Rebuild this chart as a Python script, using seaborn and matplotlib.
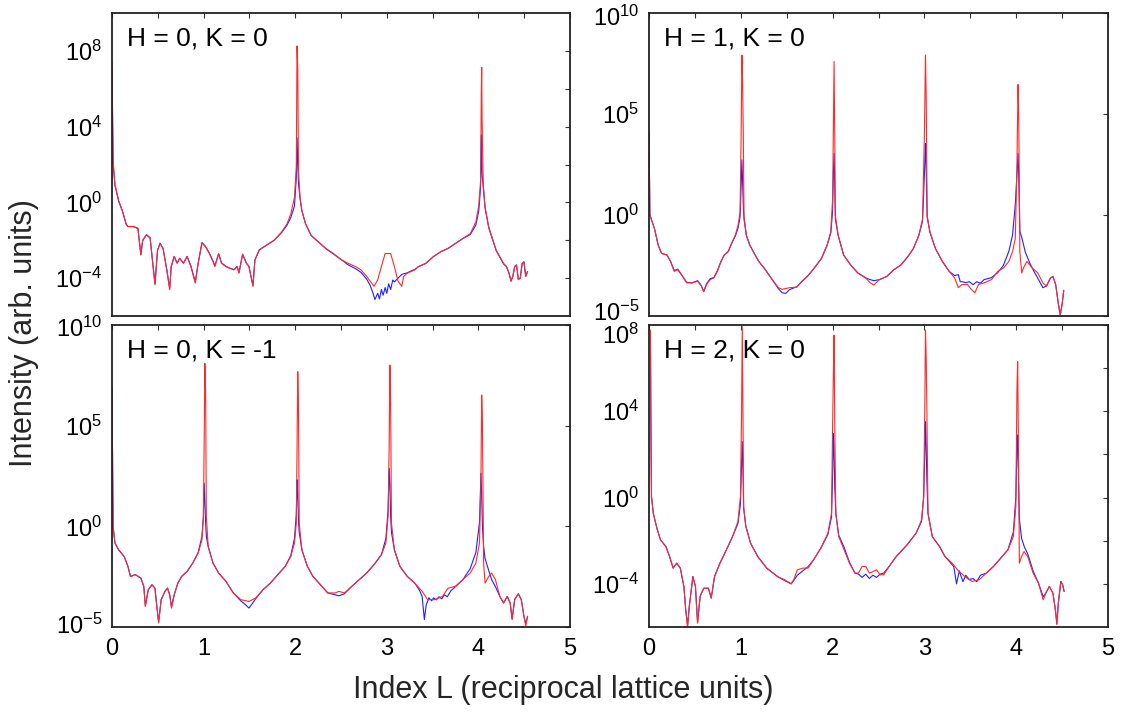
import numpy as np
import pandas as pd
import matplotlib
matplotlib.use("Agg")
import matplotlib.pyplot as plt
from matplotlib.ticker import FixedLocator, FixedFormatter, NullLocator, NullFormatter, MultipleLocator
from matplotlib.transforms import ScaledTranslation
import seaborn as sns

# ---------------- data (L index, log10 intensity) ----------------
panel_titles = ["H = 0, K = 0", "H = 1, K = 0", "H = 0, K = -1", "H = 2, K = 0"]

# H=0, K=0
L_00_red = [0.000, 0.012, 0.032, 0.073, 0.113, 0.154, 0.174, 0.234, 0.283, 0.315, 0.335, 0.376, 0.416, 0.469,
            0.497, 0.525, 0.558, 0.598, 0.630, 0.646, 0.679, 0.711, 0.739, 0.780, 0.820, 0.861, 0.909, 0.941,
            0.982, 1.022, 1.063, 1.103, 1.123, 1.164, 1.196, 1.244, 1.285, 1.333, 1.366, 1.386, 1.426, 1.467,
            1.495, 1.539, 1.560, 1.608, 1.689, 1.770, 1.851, 1.911, 1.952, 1.992, 2.012, 2.020, 2.028, 2.036,
            2.053, 2.073, 2.113, 2.174, 2.255, 2.335, 2.416, 2.497, 2.578, 2.659, 2.719, 2.780, 2.820, 2.861,
            2.901, 2.941, 2.982, 3.042, 3.083, 3.123, 3.164, 3.184, 3.224, 3.265, 3.305, 3.345, 3.426, 3.507,
            3.588, 3.669, 3.749, 3.830, 3.911, 3.972, 4.004, 4.024, 4.032, 4.036, 4.040, 4.053, 4.073, 4.113,
            4.194, 4.275, 4.307, 4.335, 4.356, 4.376, 4.396, 4.416, 4.436, 4.457, 4.477, 4.497, 4.517, 4.537]
I_00_red = [7.39, 2.17, 0.96, 0.09, -0.43, -1.13, -1.27, -1.27, -1.36, -2.78, -2.00, -1.70, -1.86, -4.35,
            -2.52, -2.17, -2.43, -3.57, -4.61, -3.39, -2.87, -3.22, -2.96, -3.22, -2.87, -3.39, -4.26, -3.22,
            -2.14, -2.35, -2.70, -3.13, -3.39, -2.70, -3.22, -3.39, -3.48, -3.57, -3.39, -3.74, -2.73, -3.22,
            -3.39, -4.43, -3.04, -2.52, -2.26, -2.00, -1.57, -1.13, -0.61, 0.26, 1.83, 8.26, 7.04, 1.65,
            0.26, -0.43, -1.13, -1.74, -2.09, -2.43, -2.70, -3.01, -3.22, -3.39, -3.57, -3.91, -4.17, -4.43,
            -4.09, -3.39, -2.70, -2.70, -3.39, -4.17, -4.43, -3.91, -3.74, -3.65, -3.57, -3.39, -3.22, -2.87,
            -2.61, -2.43, -2.17, -1.91, -1.65, -1.04, -0.17, 1.13, 5.83, 7.13, 4.43, 0.96, -0.26, -1.30,
            -2.52, -3.22, -3.39, -3.74, -4.17, -3.91, -3.39, -3.30, -4.09, -4.00, -3.22, -3.13, -3.91, -3.65]
L_00_blue = [0.000, 0.012, 0.032, 0.073, 0.113, 0.154, 0.174, 0.234, 0.283, 0.315, 0.335, 0.376, 0.416, 0.469,
             0.497, 0.525, 0.558, 0.598, 0.630, 0.646, 0.679, 0.711, 0.739, 0.780, 0.820, 0.861, 0.909, 0.941,
             0.982, 1.022, 1.063, 1.103, 1.123, 1.164, 1.196, 1.244, 1.285, 1.333, 1.366, 1.386, 1.426, 1.467,
             1.495, 1.539, 1.560, 1.608, 1.689, 1.770, 1.851, 1.911, 1.952, 1.992, 2.012, 2.020, 2.028, 2.036,
             2.053, 2.073, 2.113, 2.174, 2.255, 2.335, 2.416, 2.497, 2.578, 2.659, 2.719, 2.780, 2.820, 2.850,
             2.870, 2.901, 2.920, 2.941, 2.960, 2.982, 3.000, 3.020, 3.042, 3.065, 3.083, 3.123, 3.164, 3.224,
             3.265, 3.305, 3.345, 3.426, 3.507, 3.588, 3.669, 3.749, 3.830, 3.911, 3.972, 4.004, 4.024, 4.032,
             4.040, 4.053, 4.073, 4.113, 4.194, 4.275, 4.307, 4.335, 4.356, 4.376, 4.396, 4.416, 4.436, 4.457,
             4.477, 4.497, 4.517, 4.537]
I_00_blue = [7.0, 2.1, 0.9, 0.05, -0.45, -1.15, -1.28, -1.28, -1.38, -2.75, -2.02, -1.72, -1.88, -4.3,
             -2.55, -2.15, -2.45, -3.55, -4.55, -3.4, -2.85, -3.2, -2.95, -3.2, -2.85, -3.35, -4.2, -3.2,
             -2.12, -2.33, -2.68, -3.1, -3.35, -2.72, -3.2, -3.38, -3.47, -3.55, -3.38, -3.7, -2.75, -3.2,
             -3.38, -4.4, -3.05, -2.5, -2.25, -2.0, -1.6, -1.2, -0.8, -0.2, 1.3, 3.4, 2.0, 1.0,
             0.2, -0.45, -1.13, -1.75, -2.1, -2.45, -2.72, -3.0, -3.3, -3.5, -3.7, -4.05, -4.4, -4.8,
             -5.13, -4.8, -5.1, -4.6, -4.9, -4.5, -4.8, -4.3, -4.6, -4.1, -4.2, -4.0, -3.8, -3.72,
             -3.62, -3.55, -3.4, -3.22, -2.87, -2.61, -2.43, -2.17, -1.91, -1.7, -1.2, -0.45, 0.8, 3.57,
             1.5, 0.8, -0.3, -1.35, -2.55, -3.25, -3.4, -3.75, -4.15, -3.9, -3.4, -3.3, -4.05, -4.0,
             -3.25, -3.15, -3.9, -3.65]

# H=1, K=0
L_10_red = [0.00, 0.01, 0.06, 0.10, 0.137, 0.196, 0.235, 0.275, 0.314, 0.353, 0.41, 0.47, 0.53, 0.57, 0.596,
            0.627, 0.667, 0.706, 0.745, 0.784, 0.82, 0.863, 0.90, 0.94, 0.97, 0.992, 1.004, 1.012, 1.02, 1.027,
            1.035, 1.06, 1.098, 1.137, 1.196, 1.255, 1.33, 1.41, 1.45, 1.53, 1.61, 1.667, 1.725, 1.80, 1.88,
            1.94, 1.98, 2.0, 2.008, 2.016, 2.024, 2.03, 2.06, 2.12, 2.196, 2.275, 2.353, 2.41, 2.45, 2.51,
            2.59, 2.667, 2.745, 2.82, 2.88, 2.94, 2.98, 3.0, 3.012, 3.02, 3.03, 3.06, 3.12, 3.196, 3.27, 3.33,
            3.37, 3.41, 3.47, 3.51, 3.55, 3.59, 3.65, 3.73, 3.80, 3.86, 3.92, 3.96, 3.99, 4.008, 4.02, 4.027,
            4.04, 4.06, 4.078, 4.117, 4.176, 4.235, 4.29, 4.33, 4.373, 4.40, 4.43, 4.46, 4.48, 4.50, 4.518]
I_10_red = [4.1, 0.0, -0.68, -1.49, -1.9, -1.98, -2.3, -2.79, -2.71, -2.95, -3.36, -3.36, -3.28, -3.52, -3.8,
            -3.44, -3.2, -3.12, -2.79, -2.3, -1.98, -1.82, -1.41, -1.0, -0.52, 0.13, 4.03, 7.92, 6.6, 4.03,
            -0.03, -1.0, -1.49, -1.82, -2.3, -2.63, -3.12, -3.6, -3.68, -3.6, -3.57, -3.28, -3.04, -2.63, -2.14,
            -1.49, -0.84, 0.78, 4.03, 7.6, 3.7, -0.03, -1.0, -1.98, -2.47, -2.87, -3.08, -3.36, -3.47, -3.2,
            -3.04, -2.71, -2.47, -2.06, -1.66, -1.0, -0.19, 4.03, 7.92, 5.65, -0.03, -0.84, -1.66, -2.3, -2.79, -3.12,
            -3.6, -3.44, -3.44, -3.68, -3.85, -3.44, -3.36, -3.2, -2.79, -2.63, -2.3, -1.82, -1.17, 2.4, 6.46, 5.16,
            -1.82, -2.87, -2.63, -2.3, -2.63, -2.87, -3.36, -3.52, -3.12, -3.04, -3.44, -4.42, -4.95, -4.42, -3.73]
L_10_blue = [0.00, 0.01, 0.06, 0.10, 0.137, 0.196, 0.235, 0.275, 0.314, 0.353, 0.41, 0.47, 0.53, 0.57, 0.596,
             0.627, 0.667, 0.706, 0.745, 0.784, 0.82, 0.863, 0.90, 0.94, 0.97, 0.992, 1.004, 1.012, 1.02, 1.027,
             1.035, 1.06, 1.098, 1.137, 1.196, 1.255, 1.33, 1.41, 1.45, 1.49, 1.53, 1.61, 1.667, 1.725, 1.80,
             1.88, 1.94, 1.98, 2.0, 2.008, 2.016, 2.024, 2.03, 2.06, 2.12, 2.196, 2.275, 2.353, 2.41, 2.45,
             2.51, 2.59, 2.667, 2.745, 2.82, 2.88, 2.94, 2.98, 3.0, 3.012, 3.02, 3.03, 3.06, 3.12, 3.196, 3.27,
             3.33, 3.37, 3.39, 3.41, 3.45, 3.49, 3.53, 3.57, 3.61, 3.65, 3.69, 3.73, 3.80, 3.86, 3.92, 3.96,
             3.99, 4.008, 4.02, 4.027, 4.04, 4.06, 4.10, 4.15, 4.20, 4.25, 4.29, 4.33, 4.373, 4.40, 4.43, 4.46,
             4.48, 4.50, 4.518]
I_10_blue = [4.0, 0.0, -0.68, -1.49, -1.9, -1.98, -2.3, -2.75, -2.68, -2.95, -3.33, -3.36, -3.25, -3.5, -3.78,
             -3.4, -3.15, -3.1, -2.75, -2.3, -1.98, -1.8, -1.4, -1.05, -0.65, -0.1, 1.5, 2.73, 1.6, 0.5,
             -0.2, -1.0, -1.49, -1.82, -2.3, -2.63, -3.12, -3.65, -3.85, -3.88, -3.7, -3.55, -3.28, -3.04, -2.63,
             -2.14, -1.5, -0.9, 0.2, 2.0, 3.05, 1.5, -0.2, -1.0, -1.98, -2.47, -2.87, -3.1, -3.2, -3.25,
             -3.2, -3.04, -2.71, -2.47, -2.06, -1.66, -1.0, -0.3, 2.0, 3.54, 2.2, -0.1, -0.84, -1.66, -2.3, -2.79,
             -3.0, -2.95, -3.3, -3.3, -3.35, -3.3, -3.45, -3.3, -3.38, -3.2, -3.15, -3.1, -2.85, -2.5, -1.8, -1.0,
             0.5, 2.0, 3.05, 2.0, -0.8, -1.1, -1.85, -2.4, -2.85, -3.25, -3.6, -3.52, -3.12, -3.04, -3.44, -4.42,
             -4.95, -4.42, -3.73]

# H=0, K=-1
L_01_red = [0.000, 0.012, 0.032, 0.073, 0.133, 0.174, 0.202, 0.255, 0.315, 0.347, 0.364, 0.396, 0.436, 0.469,
            0.489, 0.509, 0.537, 0.578, 0.606, 0.630, 0.650, 0.679, 0.719, 0.760, 0.820, 0.881, 0.941, 0.982,
            0.998, 1.006, 1.014, 1.022, 1.030, 1.05, 1.103, 1.164, 1.244, 1.325, 1.406, 1.495, 1.568, 1.648,
            1.729, 1.810, 1.891, 1.952, 1.992, 2.012, 2.020, 2.028, 2.036, 2.044, 2.073, 2.133, 2.194, 2.275,
            2.356, 2.436, 2.477, 2.537, 2.618, 2.699, 2.780, 2.861, 2.941, 2.990, 3.014, 3.026, 3.034, 3.042,
            3.051, 3.083, 3.143, 3.224, 3.305, 3.386, 3.446, 3.527, 3.608, 3.669, 3.749, 3.830, 3.911, 3.972,
            4.012, 4.028, 4.036, 4.044, 4.057, 4.073, 4.113, 4.145, 4.186, 4.234, 4.275, 4.315, 4.347, 4.368,
            4.396, 4.436, 4.468, 4.497, 4.517, 4.537]
I_01_red = [6.9, 0.0, -0.83, -1.17, -1.5, -1.99, -2.49, -2.4, -2.57, -2.98, -3.97, -3.15, -2.9, -3.07,
            -3.97, -4.8, -3.64, -3.23, -3.07, -3.4, -4.06, -3.4, -2.82, -2.49, -2.24, -1.83, -1.33, -0.67,
            0.49, 4.12, 8.09, 6.6, 0.49, -1.0, -1.83, -2.32, -2.73, -3.31, -3.64, -3.73, -3.56, -3.15,
            -2.82, -2.4, -1.99, -1.5, -0.83, 0.16, 3.79, 7.68, 5.78, 0.16, -1.17, -1.99, -2.49, -2.9,
            -3.31, -3.31, -3.23, -3.31, -2.98, -2.65, -2.32, -1.9, -1.41, -0.83, 0.49, 4.12, 8.01, 6.11,
            0.16, -1.17, -1.99, -2.49, -2.82, -3.23, -3.64, -3.64, -3.48, -3.07, -2.98, -2.65, -2.32, -1.83,
            -0.83, 2.47, 6.52, 5.12, -1.83, -2.82, -2.49, -2.32, -2.65, -3.48, -3.81, -3.48, -3.81, -4.63,
            -3.64, -3.35, -3.64, -4.47, -4.95, -4.47]
L_01_blue = [0.000, 0.012, 0.032, 0.073, 0.133, 0.174, 0.202, 0.255, 0.315, 0.347, 0.364, 0.396, 0.436, 0.469,
             0.489, 0.509, 0.537, 0.578, 0.606, 0.630, 0.650, 0.679, 0.719, 0.760, 0.820, 0.881, 0.941, 0.982,
             0.998, 1.006, 1.014, 1.022, 1.030, 1.05, 1.103, 1.164, 1.244, 1.325, 1.406, 1.46, 1.495, 1.53,
             1.568, 1.648, 1.729, 1.810, 1.891, 1.952, 1.992, 2.012, 2.020, 2.028, 2.036, 2.044, 2.073, 2.133,
             2.194, 2.275, 2.356, 2.436, 2.477, 2.537, 2.618, 2.699, 2.780, 2.861, 2.941, 2.990, 3.014, 3.026,
             3.034, 3.042, 3.051, 3.083, 3.143, 3.224, 3.305, 3.36, 3.386, 3.41, 3.43, 3.46, 3.49, 3.51,
             3.54, 3.57, 3.60, 3.63, 3.66, 3.70, 3.749, 3.830, 3.911, 3.972, 4.012, 4.028, 4.036, 4.044,
             4.057, 4.073, 4.113, 4.145, 4.186, 4.234, 4.275, 4.315, 4.347, 4.368, 4.396, 4.436, 4.468, 4.497,
             4.517, 4.537]
I_01_blue = [6.8, 0.0, -0.83, -1.17, -1.5, -1.99, -2.49, -2.4, -2.57, -2.98, -3.95, -3.15, -2.9, -3.07,
             -3.95, -4.75, -3.64, -3.23, -3.07, -3.4, -4.0, -3.4, -2.82, -2.49, -2.24, -1.83, -1.3, -0.5,
             0.5, 2.14, 1.2, 0.2, -0.5, -1.0, -1.83, -2.32, -2.73, -3.31, -3.7, -3.9, -4.06, -3.85,
             -3.6, -3.15, -2.82, -2.4, -1.99, -1.45, -0.6, 0.6, 2.31, 1.5, 0.3, -0.3, -1.17, -1.99,
             -2.49, -2.9, -3.31, -3.4, -3.45, -3.35, -2.98, -2.65, -2.32, -1.9, -1.41, -0.6, 0.8, 2.88,
             2.0, 0.5, -0.3, -1.17, -1.99, -2.49, -2.82, -3.2, -3.5, -4.63, -3.9, -3.55, -3.7, -3.55,
             -3.65, -3.5, -3.6, -3.4, -3.5, -3.2, -3.0, -2.65, -2.1, -1.3, 0.2, 2.64, 1.5, 0.0,
             -1.0, -1.6, -2.2, -2.65, -3.0, -3.48, -3.81, -3.48, -3.81, -4.6, -3.64, -3.35, -3.64, -4.45,
             -4.85, -4.47]

# H=2, K=0
L_20_red = [0.016, 0.020, 0.027, 0.047, 0.086, 0.125, 0.184, 0.224, 0.263, 0.302, 0.341, 0.380, 0.400, 0.420,
            0.439, 0.478, 0.506, 0.529, 0.557, 0.596, 0.647, 0.678, 0.714, 0.773, 0.851, 0.910, 0.969, 0.996,
            1.008, 1.016, 1.024, 1.031, 1.055, 1.106, 1.184, 1.282, 1.400, 1.478, 1.549, 1.576, 1.616, 1.675,
            1.733, 1.792, 1.871, 1.949, 1.988, 2.000, 2.008, 2.016, 2.024, 2.035, 2.067, 2.125, 2.184, 2.243,
            2.282, 2.322, 2.361, 2.400, 2.440, 2.478, 2.518, 2.557, 2.616, 2.694, 2.812, 2.910, 2.969, 2.992,
            3.004, 3.012, 3.020, 3.027, 3.039, 3.086, 3.165, 3.224, 3.302, 3.361, 3.439, 3.518, 3.596, 3.675,
            3.753, 3.831, 3.910, 3.969, 3.996, 4.008, 4.016, 4.024, 4.035, 4.059, 4.086, 4.125, 4.184, 4.243,
            4.294, 4.322, 4.361, 4.400, 4.427, 4.443, 4.459, 4.486, 4.506, 4.522]
I_20_red = [7.76, 3.9, 0.05, -0.73, -1.42, -1.96, -2.27, -2.73, -3.27, -3.04, -3.27, -4.12, -5.2, -5.97,
            -5.05, -3.66, -4.12, -5.82, -4.58, -4.2, -4.2, -4.66, -3.66, -3.04, -2.35, -1.81, -1.11, 0.05,
            3.75, 7.92, 3.75, -0.42, -1.34, -2.11, -2.73, -3.27, -3.66, -3.81, -4.0, -3.81, -3.35, -3.27,
            -3.27, -2.89, -2.35, -1.65, -0.73, 3.29, 5.6, 7.53, 3.29, -0.73, -1.81, -2.42, -3.04, -3.5,
            -3.5, -3.19, -3.19, -3.5, -3.43, -3.35, -3.58, -3.58, -3.19, -2.73, -2.19, -1.65, -1.03, 0.05,
            4.06, 7.76, 6.37, 4.06, -0.73, -1.81, -2.27, -2.73, -3.04, -3.35, -3.66, -3.89, -3.81, -3.5,
            -3.19, -2.81, -2.42, -1.81, -0.42, 4.98, 6.3, 2.52, -3.04, -2.73, -2.5, -2.73, -3.5, -3.97,
            -4.74, -4.43, -4.12, -4.43, -5.2, -5.89, -4.89, -3.89, -4.04, -4.35]
L_20_blue = [0.016, 0.020, 0.027, 0.047, 0.086, 0.125, 0.184, 0.224, 0.263, 0.302, 0.341, 0.380, 0.400, 0.420,
             0.439, 0.478, 0.506, 0.529, 0.557, 0.596, 0.647, 0.678, 0.714, 0.773, 0.851, 0.910, 0.969, 0.996,
             1.008, 1.016, 1.024, 1.031, 1.055, 1.106, 1.184, 1.282, 1.400, 1.478, 1.549, 1.576, 1.616, 1.675,
             1.733, 1.792, 1.871, 1.949, 1.988, 2.000, 2.008, 2.016, 2.024, 2.035, 2.067, 2.125, 2.184, 2.243,
             2.282, 2.322, 2.361, 2.400, 2.440, 2.478, 2.518, 2.557, 2.616, 2.694, 2.812, 2.910, 2.969, 2.992,
             3.004, 3.012, 3.020, 3.027, 3.039, 3.086, 3.165, 3.224, 3.280, 3.320, 3.350, 3.380, 3.420, 3.450,
             3.490, 3.530, 3.570, 3.610, 3.675, 3.753, 3.831, 3.910, 3.969, 3.996, 4.008, 4.016, 4.024, 4.035,
             4.059, 4.090, 4.125, 4.184, 4.243, 4.294, 4.322, 4.361, 4.400, 4.427, 4.443, 4.459, 4.486, 4.506,
             4.522]
I_20_blue = [7.7, 3.9, 0.05, -0.73, -1.42, -1.96, -2.27, -2.73, -3.27, -3.04, -3.27, -4.12, -5.2, -5.95,
             -5.05, -3.66, -4.12, -5.8, -4.58, -4.2, -4.2, -4.66, -3.66, -3.04, -2.35, -1.81, -1.2, -0.3,
             1.5, 2.6, 1.2, -0.5, -1.34, -2.11, -2.73, -3.27, -3.66, -3.85, -4.0, -3.85, -3.6, -3.4,
             -3.2, -2.89, -2.35, -1.7, -0.9, 1.0, 2.98, 2.0, 0.5, -0.73, -1.75, -2.3, -3.0, -3.5,
             -3.55, -3.7, -3.55, -3.75, -3.6, -3.7, -3.55, -3.5, -3.19, -2.73, -2.19, -1.65, -1.1, 0.0,
             2.0, 3.52, 2.2, 0.8, -0.73, -1.81, -2.27, -2.73, -3.0, -3.2, -4.0, -3.4, -3.9, -3.6,
             -3.8, -3.75, -3.9, -3.6, -3.5, -3.19, -2.81, -2.42, -1.6, 0.0, 2.2, 2.9, 1.0, -1.0,
             -1.9, -2.3, -2.6, -3.4, -3.97, -4.6, -4.43, -4.12, -4.43, -5.2, -5.85, -4.89, -3.89, -4.04,
             -4.35]

# axis settings per panel (log10 limits, labelled decades, extra tick decades)
ylims_log = [(-6, 10), (-5, 10), (-5, 10), (-6, 8)]
label_decades = [[-4, 0, 4, 8], [-5, 0, 5, 10], [-5, 0, 5, 10], [-4, 0, 4, 8]]
minor_decades = [[-2, 2, 6], [], [], [-2, 2, 6]]
x_ticks = [0, 1, 2, 3, 4, 5]
# small vertical nudges (points) of edge tick labels, as placed in the reference
label_nudge = [{}, {-5: 4, 10: -2}, {10: -1, -5: 2}, {8: -6}]

series = [
    (L_00_red, I_00_red, L_00_blue, I_00_blue),
    (L_10_red, I_10_red, L_10_blue, I_10_blue),
    (L_01_red, I_01_red, L_01_blue, I_01_blue),
    (L_20_red, I_20_red, L_20_blue, I_20_blue),
]

# ---------------- style ----------------
sns.set_theme(style="white")
plt.rcParams["font.family"] = ["Liberation Sans", "DejaVu Sans"]
plt.rcParams["mathtext.fontset"] = "custom"
plt.rcParams["mathtext.rm"] = "Liberation Sans"
plt.rcParams["mathtext.it"] = "Liberation Sans:italic"
plt.rcParams["mathtext.bf"] = "Liberation Sans:bold"
plt.rcParams["mathtext.default"] = "regular"

W, H = 1128, 715
fig = plt.figure(figsize=(W / 100, H / 100), dpi=100)

# panel rectangles in pixels: (left, top, right, bottom)
rects_px = [(112, 13, 570, 316), (649, 13, 1108, 316), (112, 325, 570, 627), (649, 325, 1108, 627)]

for i, (rect, (lr, ir, lb, ib)) in enumerate(zip(rects_px, series)):
    l, t, r, b = rect
    ax = fig.add_axes([l / W, 1 - b / H, (r - l) / W, (b - t) / H])
    dfb = pd.DataFrame({"L": lb, "I": 10.0 ** np.array(ib)})
    dfr = pd.DataFrame({"L": lr, "I": 10.0 ** np.array(ir)})
    sns.lineplot(data=dfb, x="L", y="I", ax=ax, color="#2020ff", lw=0.8, sort=False, estimator=None)
    sns.lineplot(data=dfr, x="L", y="I", ax=ax, color="#ff2a2a", lw=0.8, sort=False, estimator=None)
    ax.set_yscale("log")
    lo, hi = ylims_log[i]
    ax.set_ylim(10.0 ** lo, 10.0 ** hi)
    ax.set_xlim(0, 5)

    ax.xaxis.set_major_locator(FixedLocator(x_ticks))
    ax.xaxis.set_minor_locator(MultipleLocator(0.5))
    ax.xaxis.set_minor_formatter(NullFormatter())
    ax.yaxis.set_major_locator(FixedLocator([10.0 ** d for d in label_decades[i]]))
    ax.yaxis.set_major_formatter(FixedFormatter([r"$10^{%d}$" % d for d in label_decades[i]]))
    if minor_decades[i]:
        ax.yaxis.set_minor_locator(FixedLocator([10.0 ** d for d in minor_decades[i]]))
    else:
        ax.yaxis.set_minor_locator(NullLocator())
    ax.yaxis.set_minor_formatter(NullFormatter())

    ax.tick_params(axis="both", which="both", direction="in", top=True, right=True,
                   length=3.5, width=0.8, color="#333333", labelsize=17, pad=8, labelcolor="black")
    ax.tick_params(axis="y", which="major", pad=7)
    if i < 2:
        ax.tick_params(axis="x", labelbottom=False)
    else:
        ax.set_xticklabels([str(v) for v in x_ticks])
    ax.set_xlabel("")
    ax.set_ylabel("")
    for sp in ax.spines.values():
        sp.set_visible(True)
        sp.set_linewidth(1.3)
        sp.set_color("#222222")
    ax.text(0.032, 0.915, panel_titles[i], transform=ax.transAxes, fontsize=19,
            ha="left", va="center", color="black")

    ticks = ax.yaxis.get_major_ticks(len(label_decades[i]))
    for tick, d in zip(ticks, label_decades[i]):
        dy = label_nudge[i].get(d, 0)
        if dy:
            tick.label1.set_transform(tick.label1.get_transform()
                                      + ScaledTranslation(0, dy / 72.0, fig.dpi_scale_trans))

fig.text(0.499, 0.035, "Index L (reciprocal lattice units)", ha="center", va="center", fontsize=22)
fig.text(0.021, 0.534, "Intensity (arb. units)", ha="center", va="center", rotation=90, fontsize=22)

fig.savefig("out.png", dpi=100)
